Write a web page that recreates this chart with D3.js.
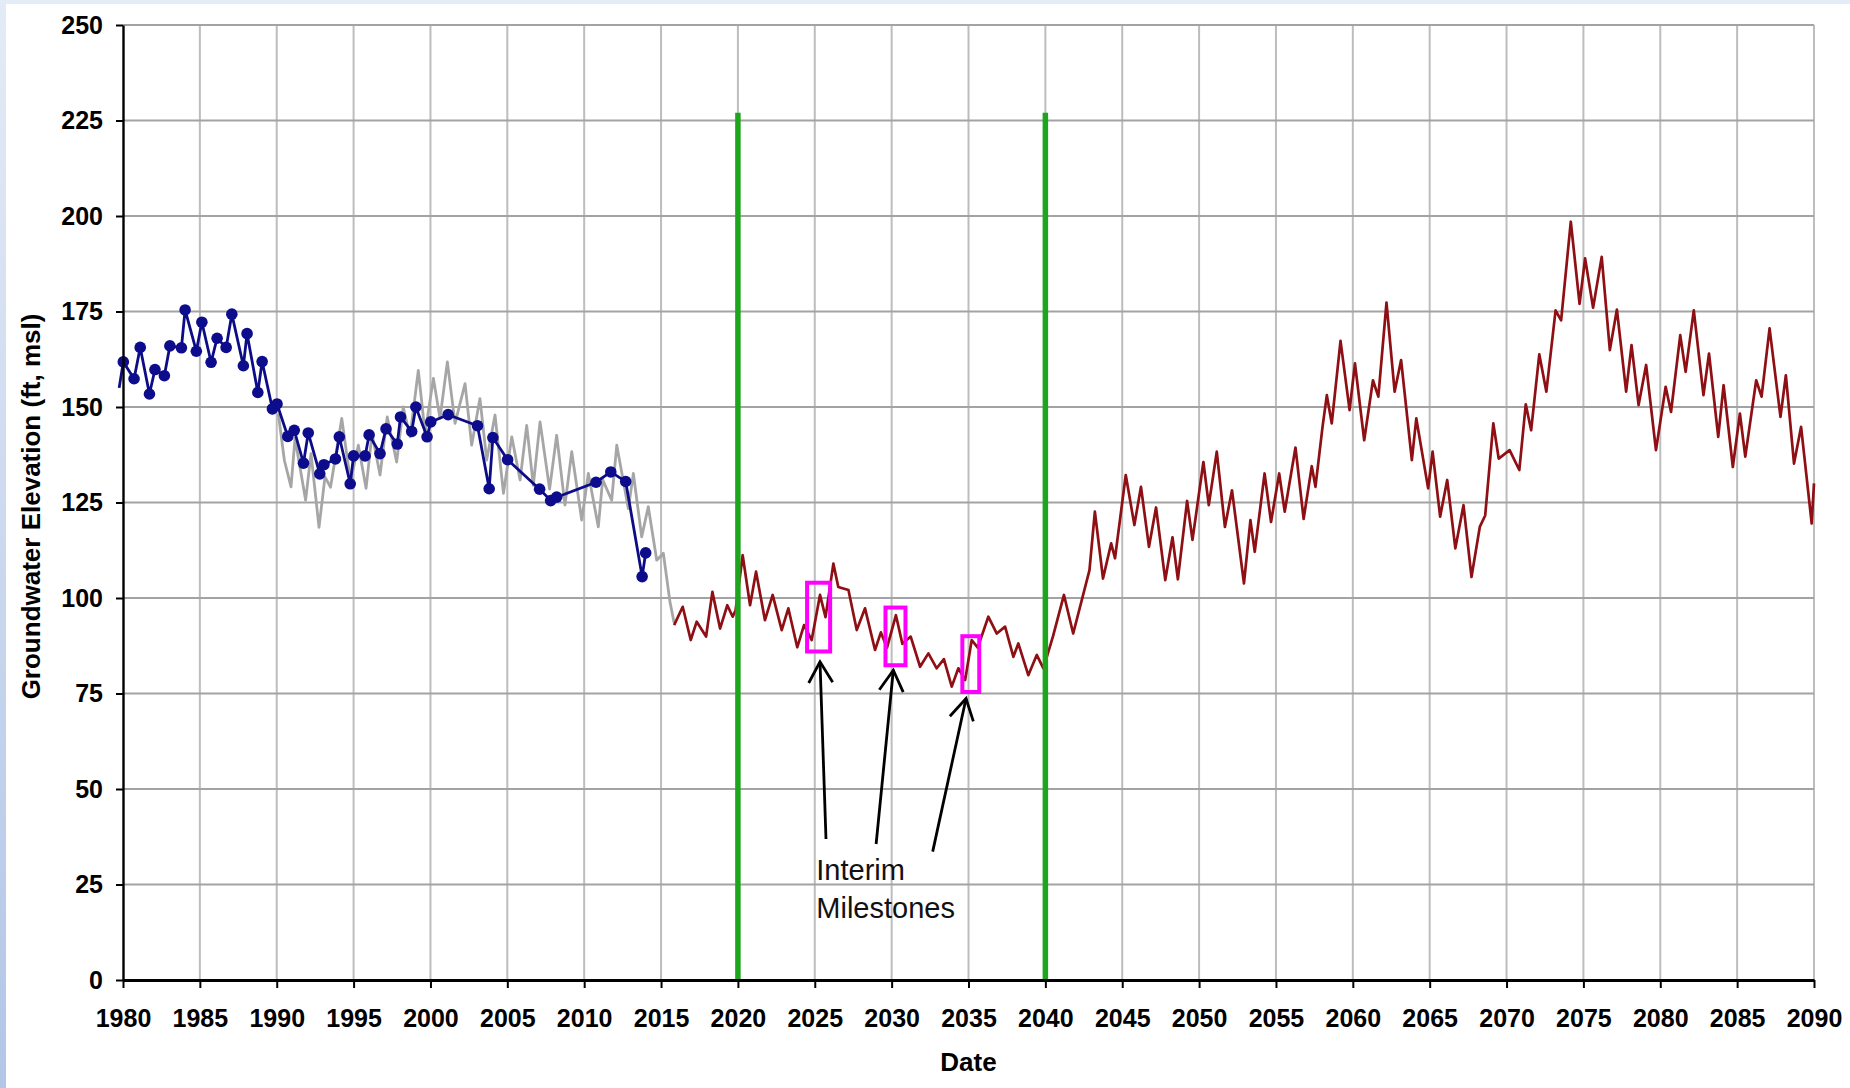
<!DOCTYPE html>
<html>
<head>
<meta charset="utf-8">
<script src="https://cdn.jsdelivr.net/npm/d3@7"></script>
<style>
  html, body { margin: 0; padding: 0; background: #fff; }
  svg { display: block; font-family: "Liberation Sans", Arial, sans-serif; }
</style>
</head>
<body>
<svg id="chart"></svg>
<script>
const W = 1850, H = 1088
const margin = {top: 25, right: 36, bottom: 108, left: 123}

// tick labels
const xTicks = d3.range(1980, 2091, 5)
const yTicks = d3.range(0, 251, 25)

// measured water levels (blue, with markers)
const obsYears = [1979.75, 1980.02, 1980.72, 1981.12, 1981.72, 1982.08, 1982.69, 1983.05, 1983.8, 1984.04,
  1984.77, 1985.13, 1985.73, 1986.12, 1986.71, 1987.08, 1987.83, 1988.07, 1988.77, 1989.05,
  1989.72, 1990.02, 1990.72, 1991.14, 1991.74, 1992.05, 1992.8, 1993.07, 1993.82, 1994.07,
  1994.78, 1995.0, 1995.75, 1996.01, 1996.72, 1997.11, 1997.84, 1998.05, 1998.78, 1999.05,
  1999.78, 2000.02, 2001.15, 2003.06, 2003.82, 2004.06, 2005.02, 2007.1, 2007.82, 2008.21,
  2010.77, 2011.73, 2012.7, 2013.77, 2014.0]
const obsVals = [155, 161.8, 157.4, 165.6, 153.4, 159.8, 158.2, 166.0, 165.5, 175.4,
  164.6, 172.2, 161.7, 168.0, 165.6, 174.3, 160.8, 169.2, 153.8, 161.9,
  149.5, 150.8, 142.3, 143.9, 135.3, 143.2, 132.5, 134.9, 136.4, 142.2,
  129.9, 137.2, 137.2, 142.7, 137.8, 144.3, 140.3, 147.4, 143.6, 150.0,
  142.2, 146.1, 148.0, 145.1, 128.6, 142.0, 136.2, 128.5, 125.5, 126.4,
  130.3, 133.0, 130.5, 105.6, 111.8]

// simulated historical (gray)
const simYears = [1990.1, 1990.5, 1990.93, 1991.19, 1991.88, 1992.23, 1992.75, 1993.14, 1993.5, 1994.23,
  1994.8, 1995.31, 1995.81, 1996.2, 1996.72, 1997.19, 1997.8, 1998.23, 1998.67, 1999.21,
  1999.65, 2000.19, 2000.62, 2001.1, 2001.6, 2002.25, 2002.68, 2003.22, 2003.66, 2004.2,
  2004.75, 2005.29, 2005.83, 2006.26, 2006.69, 2007.13, 2007.75, 2008.21, 2008.75, 2009.19,
  2009.84, 2010.27, 2010.92, 2011.2, 2011.79, 2012.12, 2012.87, 2013.2, 2013.74, 2014.17,
  2014.72, 2015.15, 2015.58, 2015.85]
const simVals = [148.3, 136, 129.1, 141.8, 125.6, 137.8, 118.5, 131.7, 129, 147.0,
  130.5, 140.0, 128.7, 143, 132.2, 147.4, 135.6, 150.0, 142.2, 159.6,
  143.1, 157.5, 147.0, 161.8, 145.7, 156.1, 140.0, 152.2, 136.1, 147.9,
  127.4, 142.2, 130.9, 145.2, 129.5, 146.1, 128.5, 142.6, 124.3, 138.3,
  120.4, 132.6, 118.6, 131, 125.6, 140.0, 123.4, 132.6, 116.0, 123.9,
  109.9, 111.7, 99.0, 93.5]

// projected (dark red)
const projYears = [2015.85, 2016.41, 2016.93, 2017.32, 2017.93, 2018.34, 2018.84, 2019.31, 2019.66, 2019.85,
  2020.31, 2020.79, 2021.18, 2021.76, 2022.26, 2022.85, 2023.28, 2023.86, 2024.3, 2024.8,
  2025.34, 2025.7, 2026.21, 2026.53, 2027.19, 2027.73, 2028.27, 2028.92, 2029.3, 2029.7,
  2030.28, 2030.7, 2031.24, 2031.85, 2032.39, 2032.93, 2033.4, 2033.91, 2034.34, 2034.78,
  2035.21, 2035.6, 2036.29, 2036.84, 2037.38, 2037.92, 2038.24, 2038.89, 2039.44, 2039.87,
  2040.5, 2041.21, 2041.81, 2042.87, 2043.22, 2043.75, 2044.28, 2044.53, 2045.23, 2045.79,
  2046.22, 2046.74, 2047.2, 2047.8, 2048.27, 2048.62, 2049.22, 2049.57, 2050.28, 2050.63,
  2051.15, 2051.68, 2052.14, 2052.92, 2053.34, 2053.62, 2054.26, 2054.68, 2055.21, 2055.57,
  2056.27, 2056.8, 2057.33, 2057.57, 2058.03, 2058.31, 2058.63, 2059.2, 2059.79, 2060.14,
  2060.74, 2061.31, 2061.66, 2062.19, 2062.72, 2063.14, 2063.84, 2064.13, 2064.9, 2065.19,
  2065.68, 2066.14, 2066.67, 2067.2, 2067.72, 2068.26, 2068.61, 2069.14, 2069.49, 2070.2,
  2070.83, 2071.25, 2071.6, 2072.13, 2072.59, 2073.19, 2073.55, 2074.18, 2074.75, 2075.11,
  2075.63, 2076.19, 2076.72, 2077.18, 2077.78, 2078.13, 2078.59, 2079.08, 2079.72, 2080.35,
  2080.7, 2081.3, 2081.65, 2082.18, 2082.81, 2083.17, 2083.77, 2084.12, 2084.72, 2085.18,
  2085.53, 2086.24, 2086.59, 2087.11, 2087.82, 2088.17, 2088.7, 2089.16, 2089.85, 2090.0]
const projVals = [92.9, 97.7, 89.0, 93.8, 89.9, 101.6, 92.0, 98.1, 95.1, 96.8,
  111.2, 98.1, 106.9, 94.2, 100.8, 91.6, 97.3, 87.1, 92.9, 89.0,
  100.8, 95, 109.0, 102.9, 102.1, 91.6, 97.3, 86.4, 91, 87,
  95.5, 88, 89.9, 82.0, 85.5, 81.6, 84, 76.8, 81.6, 78.5,
  89.0, 87, 95.1, 90.7, 92.5, 84.6, 88.1, 79.8, 85.1, 81.6,
  90.0, 100.8, 90.7, 107.3, 122.6, 105.1, 114.3, 110.4, 132.2, 119.1,
  129.1, 113.4, 123.7, 104.7, 115.9, 104.9, 125.4, 115.2, 135.6, 124.3,
  138.3, 118.6, 128.2, 103.8, 120.4, 112.1, 132.6, 119.9, 132.6, 122.6,
  139.4, 120.7, 134.5, 129.1, 144.8, 153.1, 145.7, 167.3, 149.2, 161.4,
  141.3, 157.0, 152.7, 177.3, 154.0, 162.3, 136.1, 147.0, 128.7, 138.3,
  121.3, 130.9, 113.0, 124.3, 105.5, 118.6, 121.6, 145.7, 136.5, 138.7,
  133.5, 150.7, 143.9, 163.8, 154.0, 175.3, 172.7, 198.5, 177, 188.9,
  176, 189.3, 164.9, 175.5, 154.0, 166.2, 150.5, 161.0, 138.7, 155.3,
  148.7, 168.8, 159.2, 175.3, 153.1, 164.0, 142.2, 155.7, 134.3, 148.3,
  137.0, 157.0, 152.7, 170.6, 147.4, 158.3, 135.2, 144.8, 119.5, 130]

// vertical markers and interim milestones
const markerYears = [2020, 2040]
const markerTop = 227
const boxX0 = [2024.5, 2029.6, 2034.6]
const boxX1 = [2026.0, 2030.9, 2035.7]
const boxLo = [86, 82.4, 75.4]
const boxHi = [104, 97.5, 90]
const arrowTail = [[2025.73, 36.9], [2028.99, 35.6], [2032.67, 33.6]]
const arrowTip = [[2025.34, 83.3], [2030.11, 81.1], [2034.84, 73.7]]
const noteLines = ['Interim', 'Milestones']
const notePos = [[2025.1, 26.2], [2025.1, 16.2]]

const svg = d3.select('#chart').attr('width', W).attr('height', H)

// slide-ish frame strips
const grad = svg.append('defs').append('linearGradient')
  .attr('id', 'edge').attr('x1', 0).attr('y1', 0).attr('x2', 0).attr('y2', 1)
grad.append('stop').attr('offset', '0%').attr('stop-color', '#e3ebf6')
grad.append('stop').attr('offset', '100%').attr('stop-color', '#b3c6e7')
svg.append('rect').attr('x', 0).attr('y', 0).attr('width', W).attr('height', 4).attr('fill', '#e4ecf6')
svg.append('rect').attr('x', 0).attr('y', 0).attr('width', 6).attr('height', H).attr('fill', 'url(#edge)')

const x = d3.scaleLinear().domain([1980, 2090]).range([margin.left, W - margin.right])
const y = d3.scaleLinear().domain([0, 250]).range([H - margin.bottom, margin.top])

// grid
svg.append('g').selectAll('line').data(xTicks.slice(1)).join('line')
  .attr('x1', d => x(d)).attr('x2', d => x(d))
  .attr('y1', y(0)).attr('y2', y(250))
  .attr('stroke', '#bdbdbd').attr('stroke-width', 2)
svg.append('g').selectAll('line').data(yTicks.slice(1)).join('line')
  .attr('x1', x(1980)).attr('x2', x(2090))
  .attr('y1', d => y(d)).attr('y2', d => y(d))
  .attr('stroke', '#a3a3a3').attr('stroke-width', 2.2)

const line = d3.line().x(d => x(d[0])).y(d => y(d[1]))

const sim = d3.zip(simYears, simVals)
const proj = d3.zip(projYears, projVals)
const obs = d3.zip(obsYears, obsVals)

svg.append('path').datum(sim).attr('d', line)
  .attr('fill', 'none').attr('stroke', '#a6a6a6').attr('stroke-width', 2.8).attr('stroke-linejoin', 'round')
svg.append('path').datum(proj).attr('d', line)
  .attr('fill', 'none').attr('stroke', '#8e0f14').attr('stroke-width', 2.7).attr('stroke-linejoin', 'round')
svg.append('path').datum(obs).attr('d', line)
  .attr('fill', 'none').attr('stroke', '#0c0c86').attr('stroke-width', 2.8)
svg.append('g').selectAll('circle').data(obs.slice(1)).join('circle')
  .attr('cx', d => x(d[0])).attr('cy', d => y(d[1])).attr('r', 5.8)
  .attr('fill', '#0c0c8c')

// green period lines
svg.append('g').selectAll('line').data(markerYears).join('line')
  .attr('x1', d => x(d)).attr('x2', d => x(d))
  .attr('y1', y(0)).attr('y2', y(markerTop))
  .attr('stroke', '#1ea51e').attr('stroke-width', 5.5)

// milestone boxes
svg.append('g').selectAll('rect').data(d3.range(boxX0.length)).join('rect')
  .attr('x', i => x(boxX0[i])).attr('width', i => x(boxX1[i]) - x(boxX0[i]))
  .attr('y', i => y(boxHi[i])).attr('height', i => y(boxLo[i]) - y(boxHi[i]))
  .attr('fill', 'none').attr('stroke', '#ff00ff').attr('stroke-width', 4)

// arrows
const arrows = svg.append('g').attr('stroke', '#000').attr('stroke-width', 2.8).attr('fill', 'none')
arrowTail.forEach((t, i) => {
  const x0 = x(t[0]), y0 = y(t[1])
  const x1 = x(arrowTip[i][0]), y1 = y(arrowTip[i][1])
  arrows.append('line').attr('x1', x0).attr('y1', y0).attr('x2', x1).attr('y2', y1)
  const a = Math.atan2(y0 - y1, x0 - x1), len = 24, spread = Math.PI / 6
  const p1 = [x1 + len * Math.cos(a - spread), y1 + len * Math.sin(a - spread)]
  const p2 = [x1 + len * Math.cos(a + spread), y1 + len * Math.sin(a + spread)]
  arrows.append('polyline').attr('points', [p1, [x1, y1], p2].map(p => p.join(',')).join(' '))
})

svg.append('g').selectAll('text').data(noteLines).join('text')
  .attr('x', (d, i) => x(notePos[i][0])).attr('y', (d, i) => y(notePos[i][1]))
  .attr('font-size', 29).attr('fill', '#111')
  .text(d => d)

// axes
const yAxis = svg.append('g').attr('transform', `translate(${x(1980)},0)`)
  .call(d3.axisLeft(y).tickValues(yTicks).tickSize(7).tickPadding(13).tickSizeOuter(0))
yAxis.select('.domain').attr('stroke', '#000').attr('stroke-width', 2.4)
yAxis.selectAll('.tick line').attr('stroke', '#000').attr('stroke-width', 2)
yAxis.selectAll('text').attr('font-size', 25).attr('font-weight', 'bold').attr('fill', '#000')
  .attr('font-family', '"Liberation Sans", Arial, sans-serif')

const xAxis = svg.append('g').attr('transform', `translate(0,${y(0)})`)
  .call(d3.axisBottom(x).tickValues(xTicks).tickFormat(d3.format('d')).tickSize(8).tickSizeOuter(0))
xAxis.select('.domain').attr('stroke', '#000').attr('stroke-width', 3)
xAxis.selectAll('.tick line').attr('stroke', '#000').attr('stroke-width', 2)
xAxis.selectAll('text').attr('font-size', 25).attr('font-weight', 'bold').attr('fill', '#000')
  .attr('font-family', '"Liberation Sans", Arial, sans-serif')
  .attr('y', 47).attr('dy', null)

svg.append('text')
  .attr('transform', `translate(40,${(y(0) + y(250)) / 2 + 4}) rotate(-90)`)
  .attr('text-anchor', 'middle').attr('font-size', 26).attr('font-weight', 'bold')
  .text('Groundwater Elevation (ft, msl)')

svg.append('text')
  .attr('x', (x(1980) + x(2090)) / 2).attr('y', 1071)
  .attr('text-anchor', 'middle').attr('font-size', 26).attr('font-weight', 'bold')
  .text('Date')
</script>
</body>
</html>
